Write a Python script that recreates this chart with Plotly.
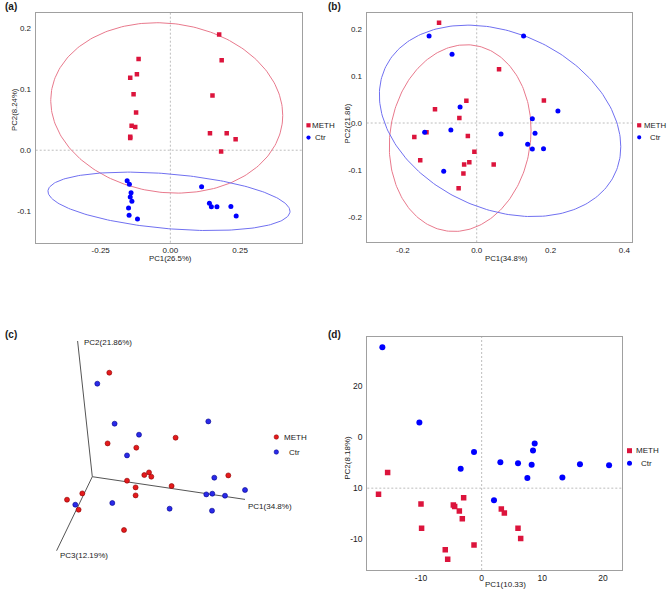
import numpy as np
import plotly.graph_objects as go

W, H = 667, 591
FONT = "Liberation Sans, Arial, sans-serif"
RED = "#DC143C"
BLUE = "#0000FF"
ELL_RED = "#E8798C"
ELL_BLUE = "#7070F0"
FRAME = "#A0A0A0"
DASH = "#BDBDBD"
TXT = "#1a1a1a"

# ---------------- data ----------------
groups = ["METH", "Ctr"]

# panel (a)
a_meth_x = [-0.114, -0.120, -0.144, -0.132, -0.123, -0.139, -0.126, -0.144, -0.144,
            0.175, 0.184, 0.151, 0.142, 0.202, 0.234, 0.182]
a_meth_y = [0.150, 0.125, 0.119, 0.092, 0.062, 0.040, 0.038, 0.022, 0.020,
            0.190, 0.148, 0.090, 0.028, 0.028, 0.018, -0.002]
a_ctr_x = [-0.155, -0.147, -0.141, -0.144, -0.138, -0.150, -0.148, -0.118,
           0.112, 0.140, 0.147, 0.167, 0.217, 0.236]
a_ctr_y = [-0.050, -0.056, -0.070, -0.077, -0.084, -0.095, -0.107, -0.113,
           -0.060, -0.087, -0.093, -0.093, -0.0925, -0.108]
# ellipse params: cx, cy, x half-extent, y half-extent, phase (deg)
a_ell_meth = [-0.013, 0.0695, 0.416, 0.140, 95]
a_ell_ctr = [-0.005, -0.084, 0.434, 0.048, 110]
a_xticks = [-0.25, 0.0, 0.25]
a_xticktext = ["-0.25", "0.00", "0.25"]
a_yticks = [0.2, 0.1, 0.0, -0.1]
a_yticktext = ["0.2", "0.1", "0.0", "-0.1"]

# panel (b)
b_meth_x = [-0.102, 0.0605, -0.028, 0.182, -0.113, -0.047, -0.136, -0.169,
            -0.024, -0.153, -0.0063, -0.020, -0.034, 0.046, -0.036, -0.049]
b_meth_y = [0.2127, 0.1138, 0.0473, 0.048, 0.029, 0.0106, -0.0198, -0.0297,
            -0.0276, -0.079, -0.0608, -0.083, -0.088, -0.088, -0.107, -0.1385]
b_ctr_x = [-0.129, 0.127, -0.0668, -0.045, 0.220, 0.1507, -0.141, -0.070,
           0.0659, 0.158, 0.138, 0.1507, 0.181, -0.0894]
b_ctr_y = [0.1845, 0.1845, 0.146, 0.034, 0.0254, 0.0092, -0.0198, -0.0148,
           -0.0233, -0.0219, -0.0452, -0.0551, -0.0544, -0.1025]
b_ell_meth = [-0.0448, -0.032, 0.192, 0.198, 85]
b_ell_ctr = [0.0633, 0.0046, 0.327, 0.203, 105.7]
b_xticks = [-0.2, 0.0, 0.2, 0.4]
b_xticktext = ["-0.2", "0.0", "0.2", "0.4"]
b_yticks = [0.2, 0.1, 0.0, -0.1, -0.2]
b_yticktext = ["0.2", "0.1", "0.0", "-0.1", "-0.2"]

# panel (c): projected 3D scatter (screen-plane coordinates of the view)
c_meth_u = [17.0, 15.3, 44.0, 83.3, 136.0, 56.7, 52.0, 59.0, 34.7, 43.3, 43.3,
            79.3, -10.0, -25.3, -13.7, 31.7]
c_meth_v = [104.0, 33.3, 29.0, 39.0, 1.3, 4.3, 1.7, 0.0, -4.0, -10.7, -18.7,
            -9.3, -16.7, -23.0, -33.0, -53.3]
c_ctr_u = [5.0, 22.3, 46.7, 34.7, 116.0, 122.0, 152.7, 114.0, 120.0, 132.7,
           -17.0, 20.0, 77.3, 119.7]
c_ctr_v = [93.0, 53.0, 42.0, 21.3, 55.3, -1.0, -13.3, -17.7, -17.0, -19.0,
           -28.0, -26.3, -32.0, -34.0]
c_axis_names = ["PC1(34.8%)", "PC2(21.86%)", "PC3(12.19%)"]
c_axis_end_u = [152.7, -14.7, -35.7]
c_axis_end_v = [-22.7, 135.7, -74.0]

# panel (d)
d_meth_x = [-15.5, -17.0, -10.0, -9.9, -4.67, -4.45, -2.97, -3.68, -3.19,
            -6.0, -5.6, -1.26, 3.24, 3.74, 5.99, 6.43]
d_meth_y = [3.1, -1.2, -3.1, -7.9, -3.3, -3.6, -1.9, -4.5, -6.0,
            -12.1, -14.0, -11.2, -4.1, -4.9, -7.9, -9.9]
d_ctr_x = [-16.37, -10.27, -1.26, -3.46, 3.08, 5.99, 8.24, 8.46, 8.74, 7.53,
           13.3, 16.2, 21.0, 2.03]
d_ctr_y = [27.7, 12.9, 7.1, 3.8, 5.1, 4.9, 4.6, 7.4, 8.8, 2.0, 2.1, 4.7, 4.5, -2.4]
d_xticks = [-10, 0, 10, 20]
d_xticktext = ["-10", "0", "10", "20"]
d_yticks = [20, 10, 0, -10]
d_yticktext = ["20", "0", "10", "-10"]


def px(x):
    return x / W


def py(y):
    return 1 - y / H


def ellipse(p, n=240):
    cx, cy, a, b, ph = p
    t = np.linspace(0, 2 * np.pi, n)
    return cx + a * np.cos(t), cy + b * np.cos(t - np.deg2rad(ph))


fig = go.Figure()

# ---- (a)
ex, ey = ellipse(a_ell_meth)
fig.add_trace(go.Scatter(x=ex, y=ey, mode="lines", line=dict(color=ELL_RED, width=1),
                         xaxis="x", yaxis="y", hoverinfo="skip"))
ex, ey = ellipse(a_ell_ctr)
fig.add_trace(go.Scatter(x=ex, y=ey, mode="lines", line=dict(color=ELL_BLUE, width=1),
                         xaxis="x", yaxis="y", hoverinfo="skip"))
fig.add_trace(go.Scatter(x=a_meth_x, y=a_meth_y, mode="markers", name=groups[0],
                         marker=dict(symbol="square", size=4.5, color=RED), xaxis="x", yaxis="y"))
fig.add_trace(go.Scatter(x=a_ctr_x, y=a_ctr_y, mode="markers", name=groups[1],
                         marker=dict(symbol="circle", size=5, color=BLUE), xaxis="x", yaxis="y"))

# ---- (b)
ex, ey = ellipse(b_ell_meth)
fig.add_trace(go.Scatter(x=ex, y=ey, mode="lines", line=dict(color=ELL_RED, width=1),
                         xaxis="x2", yaxis="y2", hoverinfo="skip"))
ex, ey = ellipse(b_ell_ctr)
fig.add_trace(go.Scatter(x=ex, y=ey, mode="lines", line=dict(color=ELL_BLUE, width=1),
                         xaxis="x2", yaxis="y2", hoverinfo="skip"))
fig.add_trace(go.Scatter(x=b_meth_x, y=b_meth_y, mode="markers", name=groups[0],
                         marker=dict(symbol="square", size=4.5, color=RED), xaxis="x2", yaxis="y2"))
fig.add_trace(go.Scatter(x=b_ctr_x, y=b_ctr_y, mode="markers", name=groups[1],
                         marker=dict(symbol="circle", size=5, color=BLUE), xaxis="x2", yaxis="y2"))

# ---- (c)
for i in range(3):
    fig.add_trace(go.Scatter(x=[0, c_axis_end_u[i]], y=[0, c_axis_end_v[i]], mode="lines",
                             line=dict(color="#555555", width=1), xaxis="x3", yaxis="y3",
                             hoverinfo="skip"))
fig.add_trace(go.Scatter(x=c_meth_u, y=c_meth_v, mode="markers", name=groups[0],
                         marker=dict(symbol="circle", size=5, color="#E41A1C",
                                     line=dict(color="#8B0000", width=0.6)),
                         xaxis="x3", yaxis="y3"))
fig.add_trace(go.Scatter(x=c_ctr_u, y=c_ctr_v, mode="markers", name=groups[1],
                         marker=dict(symbol="circle", size=5, color="#2A2AE8",
                                     line=dict(color="#00008B", width=0.6)),
                         xaxis="x3", yaxis="y3"))

# ---- (d)
fig.add_trace(go.Scatter(x=d_meth_x, y=d_meth_y, mode="markers", name=groups[0],
                         marker=dict(symbol="square", size=5.5, color=RED), xaxis="x4", yaxis="y4"))
fig.add_trace(go.Scatter(x=d_ctr_x, y=d_ctr_y, mode="markers", name=groups[1],
                         marker=dict(symbol="circle", size=6, color=BLUE), xaxis="x4", yaxis="y4"))

tickfont = dict(family=FONT, size=8, color=TXT)
tickfont_d = dict(family=FONT, size=8.5, color=TXT)


def ax(domain, rng, anchor, tv, tt, tf, standoff):
    return dict(domain=domain, range=rng, anchor=anchor, showline=True, mirror=True,
                linecolor=FRAME, linewidth=1.2, showgrid=False, zeroline=False,
                ticks="", ticklen=0, tickvals=tv, ticktext=tt, tickfont=tf,
                ticklabelstandoff=standoff, fixedrange=True)


layout = dict(
    width=W, height=H, margin=dict(l=0, r=0, t=0, b=0), showlegend=False,
    plot_bgcolor="white", paper_bgcolor="white",
    xaxis=ax([px(35.7), px(301.7)], [-0.483, 0.471], "y", a_xticks, a_xticktext, tickfont, 0),
    yaxis=ax([py(242.7), py(12.7)], [-0.152, 0.226], "x", a_yticks, a_yticktext, tickfont, 2),
    xaxis2=ax([px(366.7), px(632.3)], [-0.298, 0.4215], "y2", b_xticks, b_xticktext, tickfont, 0),
    yaxis2=ax([py(242.3), py(12.7)], [-0.253, 0.234], "x2", b_yticks, b_yticktext, tickfont, 2),
    xaxis3=dict(domain=[0, px(330)], range=[-92.3, 237.7], anchor="y3", visible=False, fixedrange=True),
    yaxis3=dict(domain=[0, py(290)], range=[-114.3, 186.7], anchor="x3", visible=False, fixedrange=True),
    xaxis4=ax([px(367.3), px(621.7)], [-18.85, 23.08], "y4", d_xticks, d_xticktext, tickfont_d, 0),
    yaxis4=ax([py(570), py(336.7)], [-16.1, 29.8], "x4", d_yticks, d_yticktext, tickfont_d, 2),
)
fig.update_layout(**layout)

# dashed zero reference lines
shapes = []
for xr, yr in [("x", "y"), ("x2", "y2"), ("x4", "y4")]:
    shapes.append(dict(type="line", xref=xr, yref=yr + " domain", x0=0, x1=0, y0=0, y1=1,
                       line=dict(color=DASH, width=1, dash="2px,2px"), layer="below"))
    shapes.append(dict(type="line", xref=xr + " domain", yref=yr, x0=0, x1=1, y0=0, y1=0,
                       line=dict(color=DASH, width=1, dash="2px,2px"), layer="below"))

annotations = []


def text(x, y, s, size=8, xanchor="left", angle=0):
    annotations.append(dict(x=px(x), y=py(y), xref="paper", yref="paper", text=s,
                            showarrow=False, xanchor=xanchor, yanchor="middle",
                            textangle=angle, borderpad=0,
                            font=dict(family=FONT, size=size, color=TXT)))


def legend(mx, y1, y2, tx1, tx2, sz, first_symbol="square", fs=8):
    h = sz / 2
    if first_symbol == "square":
        shapes.append(dict(type="rect", xref="paper", yref="paper",
                           x0=px(mx - h), x1=px(mx + h), y0=py(y1 + h), y1=py(y1 - h),
                           fillcolor=RED, line=dict(width=0)))
        shapes.append(dict(type="circle", xref="paper", yref="paper",
                           x0=px(mx - h), x1=px(mx + h), y0=py(y2 + h), y1=py(y2 - h),
                           fillcolor=BLUE, line=dict(width=0)))
    else:
        shapes.append(dict(type="circle", xref="paper", yref="paper",
                           x0=px(mx - h), x1=px(mx + h), y0=py(y1 + h), y1=py(y1 - h),
                           fillcolor="#E41A1C", line=dict(color="#8B0000", width=0.5)))
        shapes.append(dict(type="circle", xref="paper", yref="paper",
                           x0=px(mx - h), x1=px(mx + h), y0=py(y2 + h), y1=py(y2 - h),
                           fillcolor="#2A2AE8", line=dict(color="#00008B", width=0.5)))
    text(tx1, y1, groups[0], size=fs)
    text(tx2, y2, groups[1], size=fs)


legend(308.5, 125.3, 137.6, 310.8, 314.0, 4.2)
legend(639.2, 125.3, 137.3, 643.0, 648.8, 4.2, fs=7.8)
legend(629.5, 450.7, 463.3, 634.5, 640.2, 5)
legend(276.3, 437.0, 452.0, 282.8, 288.3, 4.5, first_symbol="circle")

# axis titles
text(170.3, 258.3, "PC1(26.5%)", size=7.8, xanchor="center")
text(14.0, 110.0, "PC2(8.24%)", size=7.8, xanchor="center", angle=-90)
text(506.7, 258.3, "PC1(34.8%)", size=7.8, xanchor="center")
text(346.5, 124.0, "PC2(21.86)", size=7.8, xanchor="center", angle=-90)
text(505.7, 584.7, "PC1(10.33)", size=8, xanchor="center")
text(347.5, 458.3, "PC2(8.18%)", size=8, xanchor="center", angle=-90)

# panel (c) axis labels, attached to the axis ends
c_shift = [(1, -6.6), (4, -1.8), (1, -5.0)]
for i in range(3):
    annotations.append(dict(x=c_axis_end_u[i], y=c_axis_end_v[i], xref="x3", yref="y3",
                            text=c_axis_names[i], showarrow=False, xanchor="left",
                            yanchor="middle", xshift=c_shift[i][0], yshift=c_shift[i][1],
                            font=dict(family=FONT, size=8, color=TXT)))

# panel letters
for lab, x, y in [("(a)", 2.5, 6.5), ("(b)", 326.0, 6.5), ("(c)", 2.5, 334.8), ("(d)", 326.0, 334.0)]:
    annotations.append(dict(x=px(x), y=py(y), xref="paper", yref="paper",
                            text="<b>" + lab + "</b>", showarrow=False, xanchor="left",
                            yanchor="middle", font=dict(family=FONT, size=10, color=TXT)))

fig.update_layout(shapes=shapes, annotations=annotations)
fig.write_html("out.html", config={"displayModeBar": False},
               post_script="document.body.style.margin='0';document.body.style.overflow='hidden';")
